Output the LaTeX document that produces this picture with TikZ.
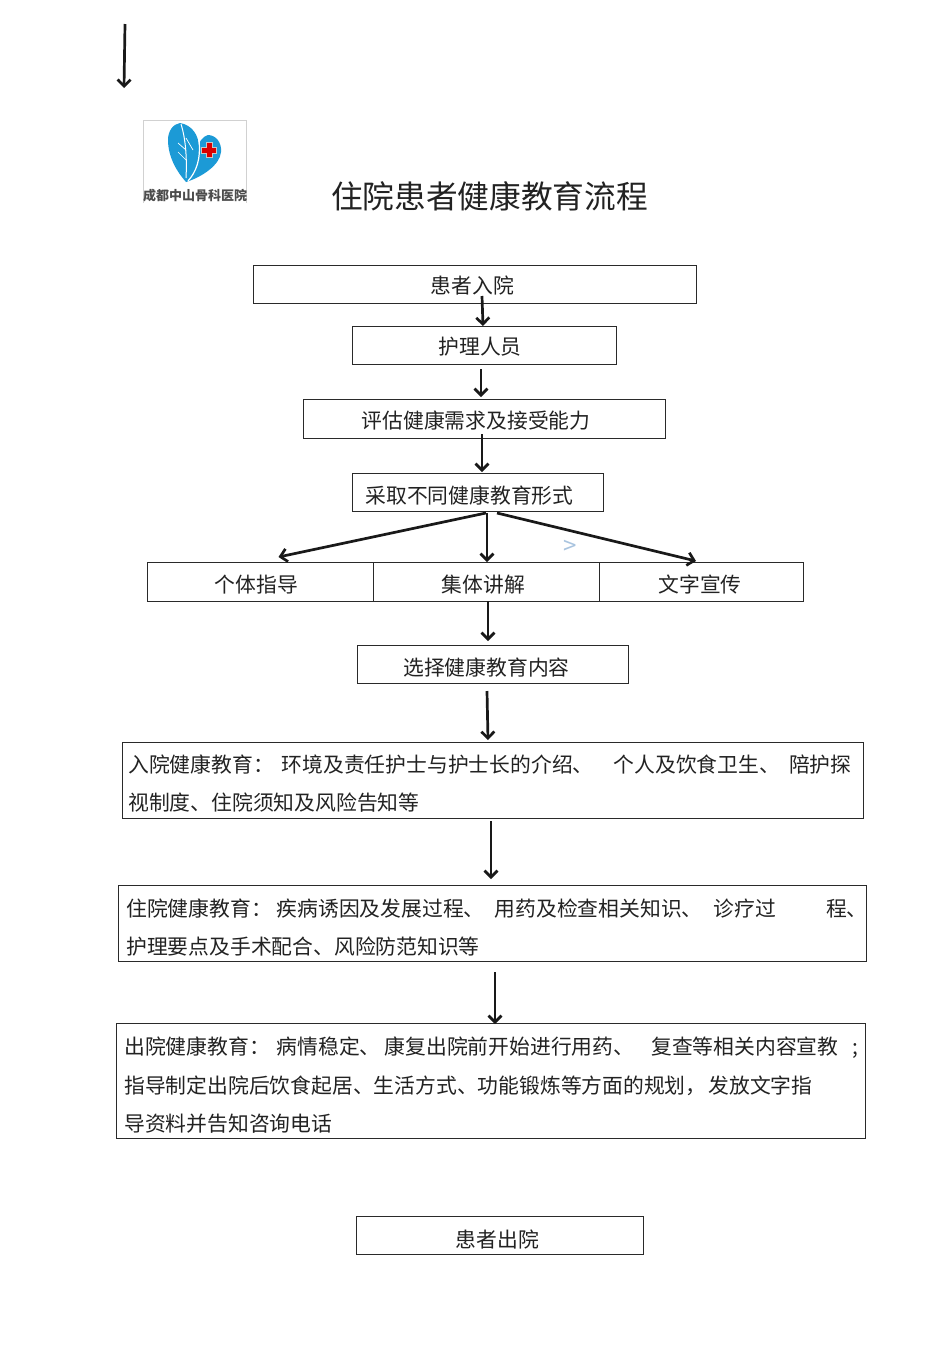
\documentclass[tikz,border=0pt]{standalone}
\usepackage{fontspec}
\setmainfont{Noto Sans CJK SC}
\usetikzlibrary{arrows.meta}
\definecolor{boxline}{HTML}{2A2A2A}
\definecolor{txt}{HTML}{222222}
\definecolor{leaf}{HTML}{1C9AD6}
\definecolor{marktone}{HTML}{A9C4DF}
\newcommand{\gp}[1]{\hspace{#1pt}}
\tikzset{
  x=1pt,y=-1pt,
  boxn/.style={draw=boxline,line width=0.9pt,inner sep=0pt,outer sep=0pt},
  boxtxt/.style={inner sep=0pt,text=txt,font=\fontsize{20.8}{25}\selectfont},
  linetxt/.style={anchor=west,inner sep=0pt,text=txt,font=\fontsize{20.8}{25}\selectfont},
  arr/.style={draw=black!90,line width=2.7pt,-{Straight Barb[length=6.5pt,width=13pt,line width=2.7pt]}},
}
% name, text, x1, x2, y1, y2, text dx, text dy
\newcommand{\bx}[8]{\node[boxn,minimum width=#4pt-#3pt,minimum height=#6pt-#5pt] (#1) at ({(#3+#4)/2},{(#5+#6)/2}) {};
  \node[boxtxt] (#1t) at ({(#3+#4)/2+#7},{(#5+#6)/2+#8}) {#2};}
\begin{document}
\begin{tikzpicture}
\useasboundingbox (0,0) rectangle (950,1345);
% logo
\draw[black!18,line width=0.6pt] (143,203) -- (143,120.5) -- (246.5,120.5) -- (246.5,203);
\fill[leaf] (208,135) .. controls (216,135) and (222,143) .. (221,152) .. controls (220,165) and (202,177) .. (186,182) -- (196,150) .. controls (199,142) and (203,136) .. (208,135) -- cycle;
\fill[leaf] (180,123) .. controls (192,125) and (199,135) .. (199,148) .. controls (199,162) and (193,173) .. (186,182) .. controls (177,172) and (168,157) .. (168,140) .. controls (168,131) and (173,124) .. (180,123) -- cycle;
\draw[white,line width=1pt] (181,124) .. controls (186,140) and (187,160) .. (186,178);
\draw[white,line width=0.7pt] (186,150) -- (178,143) (186,138) -- (193,150) (186,160) -- (178,152);
\draw[white,line width=1.2pt] (199,140) .. controls (201,160) and (196,172) .. (188,181);
\fill[red!85!black,draw=black!22,line width=0.8pt] (206,142.5) -- (212,142.5) -- (212,147) -- (216.5,147) -- (216.5,153) -- (212,153) -- (212,157.5) -- (206,157.5) -- (206,153) -- (201.5,153) -- (201.5,147) -- (206,147) -- cycle;
\node[anchor=center,inner sep=0pt,text=black!70,font=\fontsize{13}{15}\selectfont\bfseries] (logotext) at (195,195.5) {成都中山骨科医院};
% title
\node[inner sep=0pt,text=txt,font=\fontsize{31.7}{36}\selectfont] (title) at (489.5,196) {住院患者健康教育流程};
% boxes
\bx{admit}{患者入院}{253}{696}{265}{303}{-2}{2}
\bx{nurse}{护理人员}{352}{616}{326}{364}{-4}{2}
\bx{assess}{评估健康需求及接受能力}{303}{665}{399}{438}{-8}{2}
\bx{forms}{采取不同健康教育形式}{352}{603}{473}{511}{-8}{3.5}
\bx{indiv}{个体指导}{147.5}{373.5}{562}{601}{-4}{3.5}
\bx{group}{集体讲解}{373.5}{599.5}{562}{601}{-3}{3.5}
\bx{text}{文字宣传}{599.5}{803.5}{562}{601}{-1.5}{3.5}
\bx{select}{选择健康教育内容}{357}{628}{645}{683}{-6}{4}
\node[boxn,minimum width=741pt,minimum height=76pt] (inedu) at (492.5,780) {};
\node[boxn,minimum width=748pt,minimum height=76pt] (stayedu) at (492,923) {};
\node[boxn,minimum width=749pt,minimum height=115pt] (outedu) at (490.5,1080.5) {};
\bx{leave}{患者出院}{356}{643}{1216}{1254}{-2}{4}
% multi-line text
\node[linetxt] (in1) at (128,765) {入院健康教育：\gp{8}环境及责任护士与护士长的介绍、\gp{20}个人及饮食卫生、\gp{9}陪护探};
\node[linetxt] (in2) at (128,803) {视制度、住院须知及风险告知等};
\node[linetxt] (st1) at (126,909) {住院健康教育：\gp{5}疾病诱因及发展过程、\gp{10}用药及检查相关知识、\gp{11}诊疗过\gp{50}程、};
\node[linetxt] (st2) at (126,947) {护理要点及手术配合、风险防范知识等};
\node[linetxt] (ou1) at (124,1047.5) {出院健康教育：\gp{7}病情稳定、\gp{4}康复出院前开始进行用药、\gp{17}复查等相关内容宣教\gp{14};};
\node[linetxt] (ou2) at (124,1086) {指导制定出院后饮食起居、生活方式、功能锻炼等方面的规划，\gp{2}发放文字指};
\node[linetxt] (ou3) at (124,1124) {导资料并告知咨询电话};
\node[inner sep=0pt,text=marktone,font=\fontsize{24}{26}\selectfont] (mark) at (570,547) {>};
% connectors
\coordinate (topa) at (125,24);
\coordinate (topb) at (124,88);
\draw[arr] (topa) -- (topb);
\draw[arr] ([shift={(7.5,-7)}]admit.south) -- ([shift={(-1,0)}]nurse.north);
\draw[arr] ([shift={(-3,5)}]nurse.south) -- ([shift={(-3,-2)}]assess.north);
\draw[arr] ([shift={(-2,-4)}]assess.south) -- ([shift={(4.5,-1)}]forms.north);
\draw[arr] ([shift={(8.5,2)}]forms.south) -- ([shift={(18,-5)}]indiv.north);
\draw[arr] ([shift={(9.5,2)}]forms.south) -- ([shift={(0.5,0)}]group.north);
\draw[arr] ([shift={(19.5,2)}]forms.south) -- ([shift={(-5.5,-1)}]text.north);
\draw[arr] (group.south -| 488,0) -- ([shift={(-4.5,-4)}]select.north);
\draw[arr] ([shift={(-5.5,8)}]select.south) -- ([shift={(-4.5,-2)}]inedu.north);
\draw[arr] ([shift={(-1.5,3)}]inedu.south) -- ([shift={(-1,-6)}]stayedu.north);
\draw[arr] ([shift={(3,11)}]stayedu.south) -- ([shift={(4.5,1)}]outedu.north);
\end{tikzpicture}
\end{document}
